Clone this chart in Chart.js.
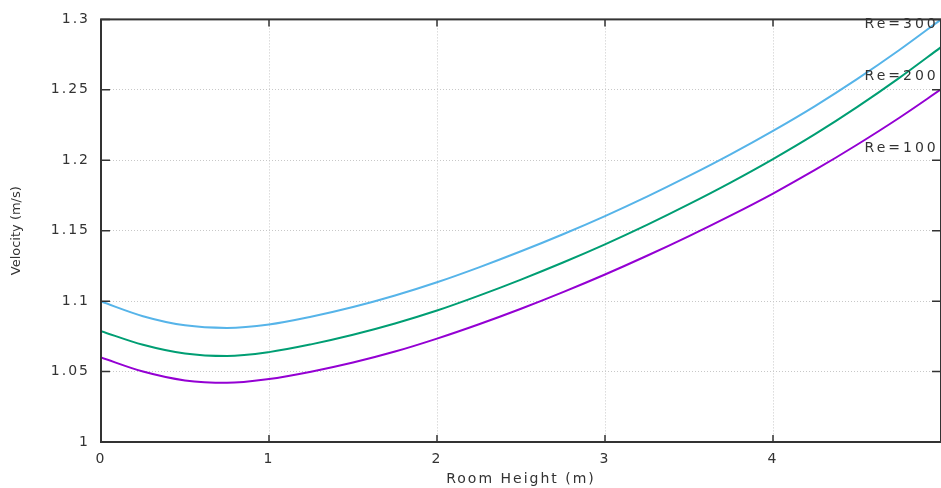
<!DOCTYPE html>
<html>
<head>
<meta charset="utf-8">
<script src="https://cdn.jsdelivr.net/npm/chart.js@4.4.1/dist/chart.umd.min.js"></script>
<style>
  html, body { margin: 0; padding: 0; background: #fff; overflow: hidden; }
</style>
</head>
<body>
<canvas id="chart1" width="950" height="488"></canvas>
<script>
// values
const heights = [0, 0.25, 0.5, 0.75, 1, 1.25, 1.5, 1.75, 2, 2.25, 2.5, 2.75, 3, 3.25, 3.5, 3.75, 4, 4.25, 4.5, 4.75, 5]
const re100 = [1.0600, 1.0500, 1.0437, 1.0420, 1.0447, 1.0499, 1.0564, 1.0642, 1.0734, 1.0836, 1.0946, 1.1064, 1.1189, 1.1322, 1.1462, 1.1609, 1.1764, 1.1931, 1.2110, 1.2300, 1.2503]
const re200 = [1.0787, 1.0690, 1.0628, 1.0610, 1.0638, 1.0693, 1.0761, 1.0841, 1.0933, 1.1039, 1.1153, 1.1274, 1.1403, 1.1541, 1.1688, 1.1843, 1.2008, 1.2185, 1.2377, 1.2583, 1.2803]
const re300 = [1.0997, 1.0893, 1.0828, 1.0810, 1.0834, 1.0889, 1.0958, 1.1040, 1.1134, 1.1240, 1.1354, 1.1475, 1.1604, 1.1742, 1.1889, 1.2044, 1.2209, 1.2385, 1.2576, 1.2781, 1.3000]
const seriesNames = ['Re=100', 'Re=200', 'Re=300']
const seriesColors = ['#9400d3', '#009e73', '#56b4e9']
const xTicks = ['0', '1', '2', '3', '4']
const yTicks = ['1', '1.05', '1.1', '1.15', '1.2', '1.25', '1.3']
// where the Re= labels sit, in data units
const labelX = 4.545
const labelY = [1.2088, 1.2598, 1.2967]

const font = '"DejaVu Sans", sans-serif'

function toPoints(vals) {
    return heights.map((h, i) => ({ x: h, y: vals[i] }))
}

const gnuplotFrame = {
    id: 'gnuplotFrame',
    beforeDraw(chart) {
        chart.ctx.letterSpacing = '2px'
    },
    afterDraw(chart) {
        const ctx = chart.ctx
        const a = chart.chartArea
        const x = chart.scales.x
        const y = chart.scales.y

        ctx.save()
        ctx.strokeStyle = '#333'
        ctx.lineWidth = 1.5
        ctx.beginPath()
        y.ticks.forEach(t => {
            const py = y.getPixelForValue(t.value)
            ctx.moveTo(a.left, py); ctx.lineTo(a.left + 9, py)
            ctx.moveTo(a.right - 9, py); ctx.lineTo(a.right, py)
        })
        x.ticks.forEach(t => {
            const px = x.getPixelForValue(t.value)
            ctx.moveTo(px, a.bottom); ctx.lineTo(px, a.bottom - 7)
            ctx.moveTo(px, a.top); ctx.lineTo(px, a.top + 7)
        })
        ctx.stroke()

        ctx.lineWidth = 2
        ctx.strokeRect(a.left, a.top, a.right - a.left, a.bottom - a.top)

        // series labels
        ctx.fillStyle = '#333'
        ctx.font = '14px ' + font
        ctx.textAlign = 'left'
        ctx.textBaseline = 'middle'
        ctx.letterSpacing = '3px'
        seriesNames.forEach((name, i) => {
            ctx.fillText(name, x.getPixelForValue(labelX), y.getPixelForValue(labelY[i]))
        })

        // y axis title
        ctx.letterSpacing = '0px'
        ctx.font = '13px ' + font
        ctx.textAlign = 'center'
        ctx.translate(17, (a.top + a.bottom) / 2)
        ctx.rotate(-Math.PI / 2)
        ctx.fillText('Velocity (m/s)', 0, 0)
        ctx.restore()
    }
}

new Chart(document.getElementById('chart1'), {
    type: 'line',
    data: {
        datasets: [re100, re200, re300].map((vals, i) => ({
            label: seriesNames[i],
            data: toPoints(vals),
            borderColor: seriesColors[i],
            backgroundColor: seriesColors[i],
            borderWidth: 2,
            pointRadius: 0,
            cubicInterpolationMode: 'monotone',
            fill: false
        }))
    },
    options: {
        responsive: false,
        animation: false,
        layout: { padding: { top: 18, right: 6, left: 0, bottom: 0 } },
        plugins: {
            legend: { display: false },
            tooltip: { enabled: false }
        },
        scales: {
            x: {
                type: 'linear',
                min: 0,
                max: 5,
                afterFit: s => { s.height = 46 },
                grid: { color: '#c8c8c8', lineWidth: 1, drawTicks: false },
                border: { display: false, dash: [1, 2] },
                ticks: {
                    stepSize: 1,
                    autoSkip: false,
                    maxRotation: 0,
                    padding: 9,
                    color: '#333',
                    font: { family: font, size: 14 },
                    callback: v => xTicks[v] ?? ''
                },
                title: {
                    display: true,
                    text: 'Room Height (m)',
                    color: '#333',
                    font: { family: font, size: 14 },
                    padding: { top: 0, bottom: 0 }
                }
            },
            y: {
                min: 1,
                max: 1.3,
                afterFit: s => { s.width = 101 },
                grid: { color: '#c8c8c8', lineWidth: 1, drawTicks: false },
                border: { display: false, dash: [1, 2] },
                ticks: {
                    stepSize: 0.05,
                    padding: 11,
                    color: '#333',
                    font: { family: font, size: 14 },
                    callback: (v, i) => yTicks[i]
                }
            }
        }
    },
    plugins: [gnuplotFrame]
})
</script>
</body>
</html>
